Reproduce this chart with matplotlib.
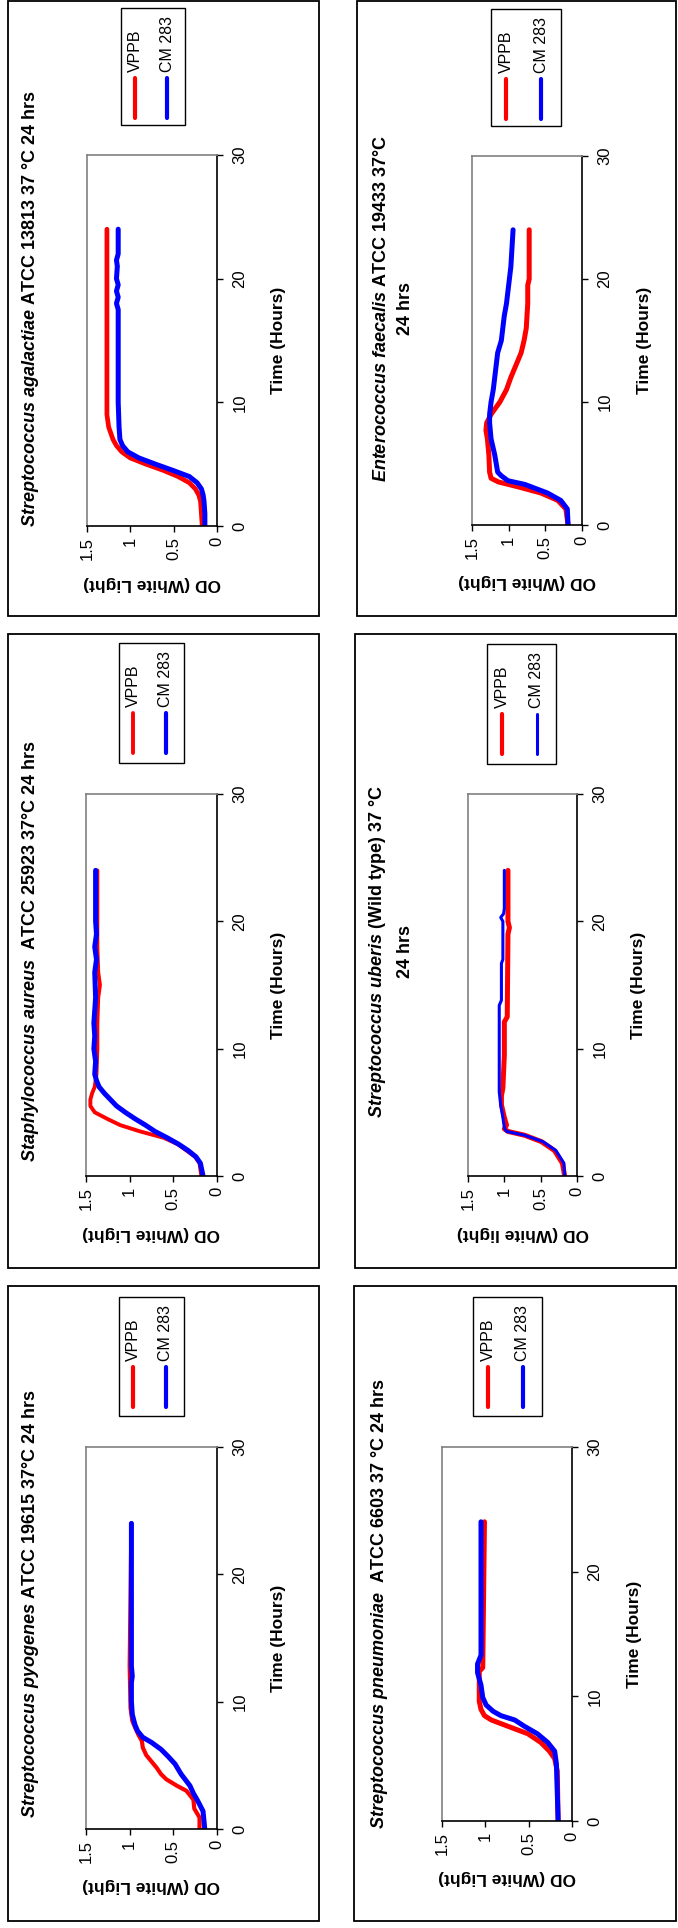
import matplotlib
matplotlib.use('Agg')
import matplotlib.pyplot as plt
from matplotlib.patches import Rectangle
from matplotlib.lines import Line2D

plt.rcParams['font.family'] = ['Liberation Sans', 'DejaVu Sans']
plt.rcParams['mathtext.fontset'] = 'custom'
plt.rcParams['mathtext.rm'] = 'Liberation Sans:bold'
plt.rcParams['mathtext.it'] = 'Liberation Sans:italic:bold'
plt.rcParams['mathtext.bf'] = 'Liberation Sans:bold'

# ---- data: time (hours) and OD (white light) ----
agal_t_red = [0, 1, 2, 2.5, 3, 3.5, 4, 4.5, 5, 5.5, 6, 6.5, 7, 8, 9, 24]
agal_od_red = [0.17, 0.18, 0.19, 0.21, 0.25, 0.32, 0.45, 0.62, 0.82, 1.0, 1.1, 1.16, 1.2, 1.25, 1.27, 1.27]
agal_t_blue = [0, 1, 2, 2.5, 3, 3.5, 4, 4.5, 5, 5.5, 6, 6.5, 7, 8, 10, 17.5, 18, 18.5, 19, 19.5, 20, 21, 21.5, 22, 24]
agal_od_blue = [0.14, 0.14, 0.15, 0.16, 0.18, 0.23, 0.32, 0.51, 0.71, 0.9, 1.03, 1.09, 1.12, 1.13, 1.14, 1.14,
                1.16, 1.14, 1.16, 1.14, 1.16, 1.15, 1.16, 1.14, 1.14]

aur_t_red = [0, 1, 1.5, 2, 2.5, 3, 3.5, 4, 4.5, 5, 5.5, 6, 6.5, 7, 8, 10, 12, 14, 15, 16, 18, 20, 22, 24]
aur_od_red = [0.18, 0.2, 0.25, 0.35, 0.45, 0.61, 0.88, 1.11, 1.26, 1.4, 1.45, 1.45, 1.43, 1.4, 1.38, 1.37,
              1.37, 1.36, 1.34, 1.36, 1.37, 1.37, 1.37, 1.37]
aur_t_blue = [0, 1, 1.5, 2, 2.5, 3, 3.5, 4, 4.5, 5, 5.5, 6, 6.5, 7, 7.5, 8, 9, 10, 11, 12, 14, 16, 17, 18, 19,
              20, 22, 24]
aur_od_blue = [0.16, 0.19, 0.24, 0.33, 0.44, 0.57, 0.71, 0.82, 0.94, 1.05, 1.15, 1.22, 1.29, 1.35, 1.38, 1.4,
               1.39, 1.41, 1.4, 1.41, 1.39, 1.4, 1.38, 1.4, 1.38, 1.39, 1.39, 1.39]

pyo_t_red = [0, 0.9, 1.6, 2.3, 3.0, 3.4, 3.9, 4.3, 4.8, 5.3, 5.8, 6.4, 6.9, 7.4, 8.0, 8.5, 9.5, 12.8, 24]
pyo_od_red = [0.2, 0.2, 0.26, 0.27, 0.35, 0.46, 0.58, 0.64, 0.69, 0.75, 0.81, 0.85, 0.86, 0.9, 0.94, 0.97,
              0.99, 1.0, 0.98]
pyo_t_blue = [0, 1.4, 2.2, 2.8, 3.4, 4.3, 5.1, 5.7, 6.25, 6.8, 7.2, 7.7, 8.2, 9.0, 10, 11.5, 12, 12.8, 13.5, 24]
pyo_od_blue = [0.14, 0.16, 0.22, 0.27, 0.31, 0.41, 0.48, 0.56, 0.64, 0.75, 0.85, 0.91, 0.94, 0.97, 0.98, 0.98,
               0.97, 0.98, 0.98, 0.98]

fae_t_red = [0, 1.3, 2, 2.6, 3.1, 3.5, 3.8, 4.3, 5.7, 7, 7.7, 8.3, 9, 10, 11, 12, 13, 14, 15, 16, 17, 18, 19.5,
             20, 24]
fae_od_red = [0.19, 0.22, 0.33, 0.56, 0.87, 1.14, 1.24, 1.26, 1.27, 1.29, 1.31, 1.3, 1.24, 1.12, 1.03, 0.97,
              0.9, 0.83, 0.79, 0.76, 0.75, 0.74, 0.74, 0.72, 0.72]
fae_t_blue = [0, 1.3, 2, 2.6, 3.3, 3.6, 4, 4.3, 5.7, 7, 8.3, 9, 10, 11, 12, 13, 14, 15, 16, 17, 18, 19, 20, 21,
              22, 24]
fae_od_blue = [0.19, 0.2, 0.29, 0.47, 0.78, 1.01, 1.1, 1.15, 1.19, 1.24, 1.26, 1.26, 1.24, 1.21, 1.19, 1.17,
               1.15, 1.1, 1.08, 1.06, 1.03, 1.01, 0.99, 0.97, 0.96, 0.94]

ube_t_red = [0, 1, 2, 2.7, 3.2, 3.5, 3.7, 4, 4.6, 5.6, 6.3, 6.9, 9.5, 12.1, 12.5, 19, 19.5, 20, 24]
ube_od_red = [0.17, 0.2, 0.31, 0.49, 0.72, 0.95, 1.0, 0.97, 1.0, 1.04, 1.04, 1.02, 1.0, 1.0, 0.96, 0.95, 0.93,
              0.95, 0.95]
ube_t_blue = [0, 1, 2, 2.7, 3.2, 3.5, 3.8, 4.6, 5.6, 6.6, 9.5, 13.4, 13.8, 16.7, 17, 20, 20.3, 20.6, 21, 24]
ube_od_blue = [0.17, 0.18, 0.29, 0.47, 0.72, 0.97, 1.0, 1.02, 1.05, 1.07, 1.07, 1.07, 1.04, 1.04, 1.02, 1.02,
               1.05, 1.01, 1.0, 1.0]

pne_t_red = [0, 4, 5, 5.6, 6.3, 7, 7.6, 8.1, 8.45, 8.95, 9.6, 12, 12.3, 24]
pne_od_red = [0.16, 0.17, 0.2, 0.26, 0.36, 0.51, 0.74, 0.93, 1.01, 1.05, 1.07, 1.07, 1.03, 1.01]
pne_t_blue = [0, 4.6, 5.6, 6.3, 7, 7.6, 8.1, 8.45, 8.8, 9.3, 9.9, 10.9, 11.9, 12.6, 13.3, 24]
pne_od_blue = [0.16, 0.18, 0.2, 0.28, 0.4, 0.55, 0.66, 0.82, 0.91, 0.99, 1.03, 1.05, 1.09, 1.09, 1.05, 1.05]

series_names = ['VPPB', 'CM 283']
od_ticks = [0, 0.5, 1, 1.5]
od_ticklabels = ['0', '0.5', '1', '1.5']
time_ticks = [0, 10, 20, 30]

titles = [
    [r'$\mathit{Streptococcus\ agalactiae}$ ATCC 13813 37 °C 24 hrs'],
    [r'$\mathit{Staphylococcus\ aureus}$  ATCC 25923 37°C 24 hrs'],
    [r'$\mathit{Streptococcus\ pyogenes}$ ATCC 19615 37°C 24 hrs'],
    [r'$\mathit{Enterococcus\ faecalis}$ ATCC 19433 37°C', '24 hrs'],
    [r'$\mathit{Streptococcus\ uberis}$ (Wild type) 37 °C', '24 hrs'],
    [r'$\mathit{Streptococcus\ pneumoniae}$  ATCC 6603 37 °C 24 hrs'],
]
od_labels = ['OD (White Light)'] * 4 + ['OD (White light)', 'OD (White Light)']
curves = [
    (agal_t_red, agal_od_red, agal_t_blue, agal_od_blue),
    (aur_t_red, aur_od_red, aur_t_blue, aur_od_blue),
    (pyo_t_red, pyo_od_red, pyo_t_blue, pyo_od_blue),
    (fae_t_red, fae_od_red, fae_t_blue, fae_od_blue),
    (ube_t_red, ube_od_red, ube_t_blue, ube_od_blue),
    (pne_t_red, pne_od_red, pne_t_blue, pne_od_blue),
]

# ---- layout in pixels (x right, y down); each panel is a chart turned on its side ----
W, H = 678, 1928
layout = [
    dict(border=(8, 1, 319, 616), plot=(87, 155, 217, 526), legend=(121, 8, 185, 125), tx=[31]),
    dict(border=(8, 634, 319, 1268), plot=(86, 794, 217, 1176), legend=(119, 643, 184, 763), tx=[31]),
    dict(border=(8, 1286, 319, 1921), plot=(86, 1447, 217, 1829), legend=(119, 1297, 184, 1416), tx=[31]),
    dict(border=(357, 1, 676, 616), plot=(472, 156, 582, 525), legend=(491, 9, 561, 126), tx=[381, 406]),
    dict(border=(355, 634, 676, 1268), plot=(468, 794, 577, 1176), legend=(487, 644, 556, 764), tx=[378, 405]),
    dict(border=(354, 1286, 676, 1921), plot=(442, 1447, 572, 1821), legend=(473, 1297, 542, 1416), tx=[379]),
]
line_widths = [(3.4, 3.6), (2.8, 3.6), (3.0, 3.6), (3.6, 3.6), (3.6, 2.2), (3.6, 3.6)]


def fx(x):
    return x / W


def fy(y):
    return 1 - y / H


fig = plt.figure(figsize=(W / 100, H / 100), dpi=100)
fig.patch.set_facecolor('white')

for i in range(6):
    lay = layout[i]
    t_r, od_r, t_b, od_b = curves[i]
    lw_r, lw_b = line_widths[i]

    # panel frame
    bx0, by0, bx1, by1 = lay['border']
    fig.add_artist(Rectangle((fx(bx0), fy(by1)), (bx1 - bx0) / W, (by1 - by0) / H,
                             transform=fig.transFigure, fill=False, ec='black', lw=1.3))

    # plot area: OD runs right-to-left, time runs upward
    px0, py0, px1, py1 = lay['plot']
    ax = fig.add_axes([fx(px0), fy(py1), (px1 - px0) / W, (py1 - py0) / H])
    ax.plot(od_r, t_r, color='#ff0000', lw=lw_r, solid_capstyle='round', solid_joinstyle='round')
    ax.plot(od_b, t_b, color='#0000ff', lw=lw_b, solid_capstyle='round', solid_joinstyle='round')
    ax.set_xlim(1.5, 0)
    ax.set_ylim(0, 30)
    ax.set_xticks(od_ticks)
    ax.set_xticklabels(od_ticklabels)
    ax.set_yticks(time_ticks)
    ax.yaxis.tick_right()
    ax.tick_params(axis='x', direction='out', length=4, width=1, pad=4, labelrotation=90, labelsize=12)
    ax.tick_params(axis='y', direction='out', length=4, width=1, pad=7, labelrotation=90, labelsize=12)
    for lbl in ax.get_yticklabels():
        lbl.set_va('center')
    for s in ['top', 'left']:
        ax.spines[s].set_color('#808080')
        ax.spines[s].set_linewidth(1.2)
    for s in ['right', 'bottom']:
        ax.spines[s].set_color('black')
        ax.spines[s].set_linewidth(1.2)

    # titles
    for tx, line in zip(lay['tx'], titles[i]):
        fig.text(fx(tx), fy((by0 + by1) / 2), line, rotation=90, ha='center', va='center',
                 fontsize=13, fontweight='bold')

    # axis labels
    fig.text(fx(px1 + 62), fy((py0 + py1) / 2), 'Time (Hours)', rotation=90, ha='center', va='center',
             fontsize=12.5, fontweight='bold')
    fig.text(fx((px0 + px1) / 2), fy(py1 + 57), od_labels[i], rotation=180, ha='center', va='center',
             fontsize=12.5, fontweight='bold')

    # legend
    lx0, ly0, lx1, ly1 = lay['legend']
    fig.add_artist(Rectangle((fx(lx0), fy(ly1)), (lx1 - lx0) / W, (ly1 - ly0) / H,
                             transform=fig.transFigure, fill=False, ec='black', lw=1))
    for frac, col, lw, name in [(0.22, '#ff0000', min(lw_r, 3.0), series_names[0]),
                                (0.72, '#0000ff', min(lw_b, 3.0), series_names[1])]:
        xx = lx0 + frac * (lx1 - lx0)
        fig.add_artist(Line2D([fx(xx), fx(xx)], [fy(ly0 + 110), fy(ly0 + 70)], transform=fig.transFigure,
                              color=col, lw=lw, solid_capstyle='round'))
        fig.text(fx(xx), fy(ly0 + 64), name, rotation=90, ha='center', va='bottom', fontsize=11.5)

fig.savefig('out.png', dpi=100)
